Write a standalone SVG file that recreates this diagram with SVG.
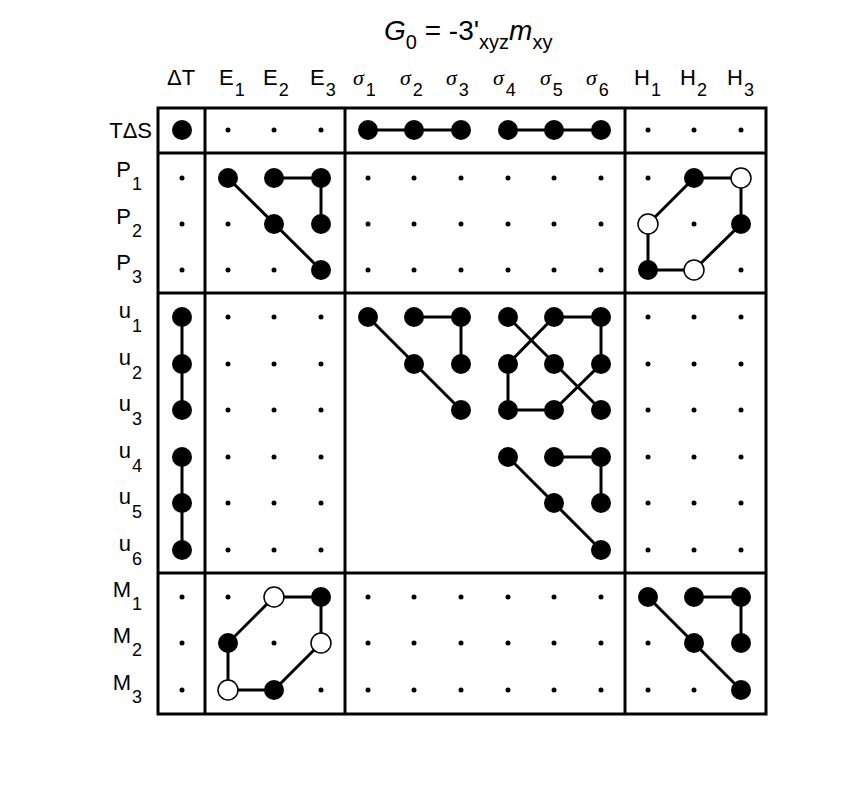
<svg xmlns="http://www.w3.org/2000/svg" width="856" height="812" viewBox="0 0 856 812">
<style>
text{font-family:"Liberation Sans",Arial,sans-serif;font-size:22px;fill:#000}
.s{font-size:18px}
.g{font-family:"Liberation Serif",serif;font-style:italic}
.n{fill:#000}
.o{fill:#fff;stroke:#000;stroke-width:1.5}
.d{fill:#000}
.e{stroke:#000;stroke-width:3;fill:none}
.b{stroke:#000;stroke-width:3;fill:none}
</style>
<rect width="856" height="812" fill="#fff"/>
<text x="384" y="40" style="font-size:28px"><tspan font-style="italic">G</tspan><tspan dy="9" style="font-size:20px">0</tspan><tspan dy="-9"> = -3'</tspan><tspan dy="9" style="font-size:20px">xyz</tspan><tspan dy="-9" font-style="italic">m</tspan><tspan dy="9" style="font-size:20px">xy</tspan></text>
<g id="headers">
<text x="167" y="85">ΔT</text>
<text x="219" y="85">E<tspan class="s" dx="1" dy="11">1</tspan></text>
<text x="263" y="85">E<tspan class="s" dx="1" dy="11">2</tspan></text>
<text x="310" y="85">E<tspan class="s" dx="1" dy="11">3</tspan></text>
<text x="353" y="85"><tspan class="g">σ</tspan><tspan class="s" dx="2" dy="11">1</tspan></text>
<text x="400" y="85"><tspan class="g">σ</tspan><tspan class="s" dx="2" dy="11">2</tspan></text>
<text x="446" y="85"><tspan class="g">σ</tspan><tspan class="s" dx="2" dy="11">3</tspan></text>
<text x="493" y="85"><tspan class="g">σ</tspan><tspan class="s" dx="2" dy="11">4</tspan></text>
<text x="540" y="85"><tspan class="g">σ</tspan><tspan class="s" dx="2" dy="11">5</tspan></text>
<text x="586" y="85"><tspan class="g">σ</tspan><tspan class="s" dx="2" dy="11">6</tspan></text>
<text x="634" y="85">H<tspan class="s" dx="1" dy="11">1</tspan></text>
<text x="680" y="85">H<tspan class="s" dx="1" dy="11">2</tspan></text>
<text x="727" y="85">H<tspan class="s" dx="1" dy="11">3</tspan></text>
</g>
<g id="rowlabels" text-anchor="end">
<text x="152" y="138">TΔS</text>
<text x="142" y="177">P<tspan class="s" dx="1" dy="13">1</tspan></text>
<text x="142" y="224">P<tspan class="s" dx="1" dy="13">2</tspan></text>
<text x="142" y="270">P<tspan class="s" dx="1" dy="13">3</tspan></text>
<text x="142" y="318">u<tspan class="s" dx="1" dy="14">1</tspan></text>
<text x="142" y="365">u<tspan class="s" dx="1" dy="14">2</tspan></text>
<text x="142" y="411">u<tspan class="s" dx="1" dy="14">3</tspan></text>
<text x="142" y="458">u<tspan class="s" dx="1" dy="14">4</tspan></text>
<text x="142" y="504">u<tspan class="s" dx="1" dy="14">5</tspan></text>
<text x="142" y="551">u<tspan class="s" dx="1" dy="14">6</tspan></text>
<text x="142" y="597">M<tspan class="s" dx="1" dy="13">1</tspan></text>
<text x="142" y="643">M<tspan class="s" dx="1" dy="13">2</tspan></text>
<text x="142" y="690">M<tspan class="s" dx="1" dy="13">3</tspan></text>
</g>
<g id="frame" class="b">
<rect x="158" y="108" width="608" height="606"/>
<line x1="205" y1="108" x2="205" y2="714"/>
<line x1="345" y1="108" x2="345" y2="714"/>
<line x1="625" y1="108" x2="625" y2="714"/>
<line x1="158" y1="153" x2="766" y2="153"/>
<line x1="158" y1="293" x2="766" y2="293"/>
<line x1="158" y1="573" x2="766" y2="573"/>
</g>
<g id="connectors" class="e">
<polyline points="368,130 461,130"/><polyline points="508,130 601,130"/>
<polyline points="228,178 321,270"/><polyline points="274,178 321,178 321,224"/>
<polyline points="741,178 694,178 648,224 648,270 694,270 741,224 741,178"/>
<polyline points="182,317 182,410"/><polyline points="182,457 182,550"/>
<polyline points="368,317 461,410"/><polyline points="414,317 461,317 461,364"/>
<polyline points="508,317 601,410"/><polyline points="554,317 508,364 508,410 554,410 601,364 601,317 554,317"/>
<polyline points="508,457 601,550"/><polyline points="554,457 601,457 601,503"/>
<polyline points="274,597 321,597 321,643 274,690 228,690 228,643 274,597"/>
<polyline points="648,597 741,690"/><polyline points="694,597 741,597 741,643"/>
</g>
<g id="nodes">
<g class="n">
<circle cx="182" cy="130" r="10"/>
<circle cx="368" cy="130" r="10"/><circle cx="414" cy="130" r="10"/><circle cx="461" cy="130" r="10"/>
<circle cx="508" cy="130" r="10"/><circle cx="554" cy="130" r="10"/><circle cx="601" cy="130" r="10"/>
<circle cx="228" cy="178" r="10"/><circle cx="274" cy="178" r="10"/><circle cx="321" cy="178" r="10"/>
<circle cx="274" cy="224" r="10"/><circle cx="321" cy="224" r="10"/><circle cx="321" cy="270" r="10"/>
<circle cx="694" cy="178" r="10"/><circle cx="741" cy="224" r="10"/><circle cx="648" cy="270" r="10"/>
<circle cx="182" cy="317" r="10"/><circle cx="182" cy="364" r="10"/><circle cx="182" cy="410" r="10"/>
<circle cx="182" cy="457" r="10"/><circle cx="182" cy="503" r="10"/><circle cx="182" cy="550" r="10"/>
<circle cx="368" cy="317" r="10"/><circle cx="414" cy="317" r="10"/><circle cx="461" cy="317" r="10"/>
<circle cx="414" cy="364" r="10"/><circle cx="461" cy="364" r="10"/><circle cx="461" cy="410" r="10"/>
<circle cx="508" cy="317" r="10"/><circle cx="554" cy="317" r="10"/><circle cx="601" cy="317" r="10"/>
<circle cx="508" cy="364" r="10"/><circle cx="554" cy="364" r="10"/><circle cx="601" cy="364" r="10"/>
<circle cx="508" cy="410" r="10"/><circle cx="554" cy="410" r="10"/><circle cx="601" cy="410" r="10"/>
<circle cx="508" cy="457" r="10"/><circle cx="554" cy="457" r="10"/><circle cx="601" cy="457" r="10"/>
<circle cx="554" cy="503" r="10"/><circle cx="601" cy="503" r="10"/><circle cx="601" cy="550" r="10"/>
<circle cx="321" cy="597" r="10"/><circle cx="228" cy="643" r="10"/><circle cx="274" cy="690" r="10"/>
<circle cx="648" cy="597" r="10"/><circle cx="694" cy="597" r="10"/><circle cx="741" cy="597" r="10"/>
<circle cx="694" cy="643" r="10"/><circle cx="741" cy="643" r="10"/><circle cx="741" cy="690" r="10"/>
</g>
<g class="o">
<circle cx="741" cy="178" r="10"/><circle cx="648" cy="224" r="10"/><circle cx="694" cy="270" r="10"/>
<circle cx="274" cy="597" r="10"/><circle cx="321" cy="643" r="10"/><circle cx="228" cy="690" r="10"/>
</g>
<g class="d">
<circle cx="228" cy="130" r="2.5"/><circle cx="274" cy="130" r="2.5"/><circle cx="321" cy="130" r="2.5"/>
<circle cx="648" cy="130" r="2.5"/><circle cx="694" cy="130" r="2.5"/><circle cx="741" cy="130" r="2.5"/>
<circle cx="182" cy="178" r="2.5"/><circle cx="182" cy="224" r="2.5"/><circle cx="182" cy="270" r="2.5"/>
<circle cx="228" cy="224" r="2.5"/><circle cx="228" cy="270" r="2.5"/><circle cx="274" cy="270" r="2.5"/>
<circle cx="648" cy="178" r="2.5"/><circle cx="694" cy="224" r="2.5"/><circle cx="741" cy="270" r="2.5"/>
<circle cx="368" cy="178" r="2.5"/><circle cx="414" cy="178" r="2.5"/><circle cx="461" cy="178" r="2.5"/><circle cx="508" cy="178" r="2.5"/><circle cx="554" cy="178" r="2.5"/><circle cx="601" cy="178" r="2.5"/>
<circle cx="368" cy="224" r="2.5"/><circle cx="414" cy="224" r="2.5"/><circle cx="461" cy="224" r="2.5"/><circle cx="508" cy="224" r="2.5"/><circle cx="554" cy="224" r="2.5"/><circle cx="601" cy="224" r="2.5"/>
<circle cx="368" cy="270" r="2.5"/><circle cx="414" cy="270" r="2.5"/><circle cx="461" cy="270" r="2.5"/><circle cx="508" cy="270" r="2.5"/><circle cx="554" cy="270" r="2.5"/><circle cx="601" cy="270" r="2.5"/>
<circle cx="228" cy="317" r="2.5"/><circle cx="274" cy="317" r="2.5"/><circle cx="321" cy="317" r="2.5"/><circle cx="648" cy="317" r="2.5"/><circle cx="694" cy="317" r="2.5"/><circle cx="741" cy="317" r="2.5"/>
<circle cx="228" cy="364" r="2.5"/><circle cx="274" cy="364" r="2.5"/><circle cx="321" cy="364" r="2.5"/><circle cx="648" cy="364" r="2.5"/><circle cx="694" cy="364" r="2.5"/><circle cx="741" cy="364" r="2.5"/>
<circle cx="228" cy="410" r="2.5"/><circle cx="274" cy="410" r="2.5"/><circle cx="321" cy="410" r="2.5"/><circle cx="648" cy="410" r="2.5"/><circle cx="694" cy="410" r="2.5"/><circle cx="741" cy="410" r="2.5"/>
<circle cx="228" cy="457" r="2.5"/><circle cx="274" cy="457" r="2.5"/><circle cx="321" cy="457" r="2.5"/><circle cx="648" cy="457" r="2.5"/><circle cx="694" cy="457" r="2.5"/><circle cx="741" cy="457" r="2.5"/>
<circle cx="228" cy="503" r="2.5"/><circle cx="274" cy="503" r="2.5"/><circle cx="321" cy="503" r="2.5"/><circle cx="648" cy="503" r="2.5"/><circle cx="694" cy="503" r="2.5"/><circle cx="741" cy="503" r="2.5"/>
<circle cx="228" cy="550" r="2.5"/><circle cx="274" cy="550" r="2.5"/><circle cx="321" cy="550" r="2.5"/><circle cx="648" cy="550" r="2.5"/><circle cx="694" cy="550" r="2.5"/><circle cx="741" cy="550" r="2.5"/>
<circle cx="182" cy="597" r="2.5"/><circle cx="182" cy="643" r="2.5"/><circle cx="182" cy="690" r="2.5"/>
<circle cx="228" cy="597" r="2.5"/><circle cx="274" cy="643" r="2.5"/><circle cx="321" cy="690" r="2.5"/>
<circle cx="648" cy="643" r="2.5"/><circle cx="648" cy="690" r="2.5"/><circle cx="694" cy="690" r="2.5"/>
<circle cx="368" cy="597" r="2.5"/><circle cx="414" cy="597" r="2.5"/><circle cx="461" cy="597" r="2.5"/><circle cx="508" cy="597" r="2.5"/><circle cx="554" cy="597" r="2.5"/><circle cx="601" cy="597" r="2.5"/>
<circle cx="368" cy="643" r="2.5"/><circle cx="414" cy="643" r="2.5"/><circle cx="461" cy="643" r="2.5"/><circle cx="508" cy="643" r="2.5"/><circle cx="554" cy="643" r="2.5"/><circle cx="601" cy="643" r="2.5"/>
<circle cx="368" cy="690" r="2.5"/><circle cx="414" cy="690" r="2.5"/><circle cx="461" cy="690" r="2.5"/><circle cx="508" cy="690" r="2.5"/><circle cx="554" cy="690" r="2.5"/><circle cx="601" cy="690" r="2.5"/>
</g>
</g>
</svg>
